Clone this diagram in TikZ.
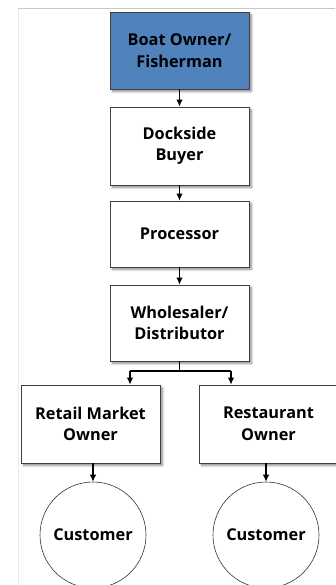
\documentclass[tikz,border=0pt]{standalone}
\usepackage{fontspec}
\setmainfont{Open Sans}
\usetikzlibrary{arrows.meta,shadows.blur}
\definecolor{boatblue}{RGB}{80,130,190}
\definecolor{frame}{RGB}{200,200,200}
\tikzset{
  box/.style={draw=black!75, line width=0.8pt, fill=white, minimum width=139pt,
    align=center, font=\bfseries\fontsize{16.3}{21.5}\selectfont, inner sep=0pt,
    blur shadow={shadow xshift=2.5pt, shadow yshift=-2.5pt, shadow blur steps=6, shadow opacity=45}},
  cust/.style={draw=black!80, line width=0.6pt, fill=white, circle, minimum size=106pt,
    inner sep=0pt, font=\bfseries\fontsize{16.3}{21.5}\selectfont},
  conn/.style={line width=1.1pt, -{Latex[length=7pt,width=6.5pt]}},
}
\begin{document}
\begin{tikzpicture}[x=1pt,y=-1pt]
\useasboundingbox (0,0) rectangle (335,585);
\draw[frame, line width=1pt] (335,9) -- (18,9);
\draw[black!8, line width=0.8pt] (18,9) -- (18,585);
\node[box, fill=boatblue, minimum height=77pt] (boat) at (179.5,50.5) {Boat Owner/\\Fisherman};
\node[box, minimum height=78pt] (dock) at (179.5,146) {Dockside\\Buyer};
\node[box, minimum height=66pt] (proc) at (179.5,234) {Processor};
\node[box, minimum height=76pt] (whole) at (179.5,323) {Wholesaler/\\Distributor};
\node[box, minimum height=78pt] (retail) at (90.5,424) {Retail Market\\Owner};
\node[box, minimum height=78pt] (rest) at (268.5,424) {Restaurant\\Owner};
\node[cust] (c1) at (93,535) {Customer};
\node[cust] (c2) at (266,535) {Customer};
\draw[conn] (boat) -- (dock);
\draw[conn] (dock) -- (proc);
\draw[conn] (proc) -- (whole);
\coordinate (jl) at (130,371);
\coordinate (jr) at (231,371);
\draw[line width=1.1pt] (whole.south) -- (179.5,371);
\draw[line width=1.1pt] (jl) -- (jr);
\draw[conn] (jl) -- (jl |- retail.north);
\draw[conn] (jr) -- (jr |- rest.north);
\draw[conn] (c1 |- retail.south) -- (c1.north);
\draw[conn] (c2 |- rest.south) -- (c2.north);
\end{tikzpicture}
\end{document}
